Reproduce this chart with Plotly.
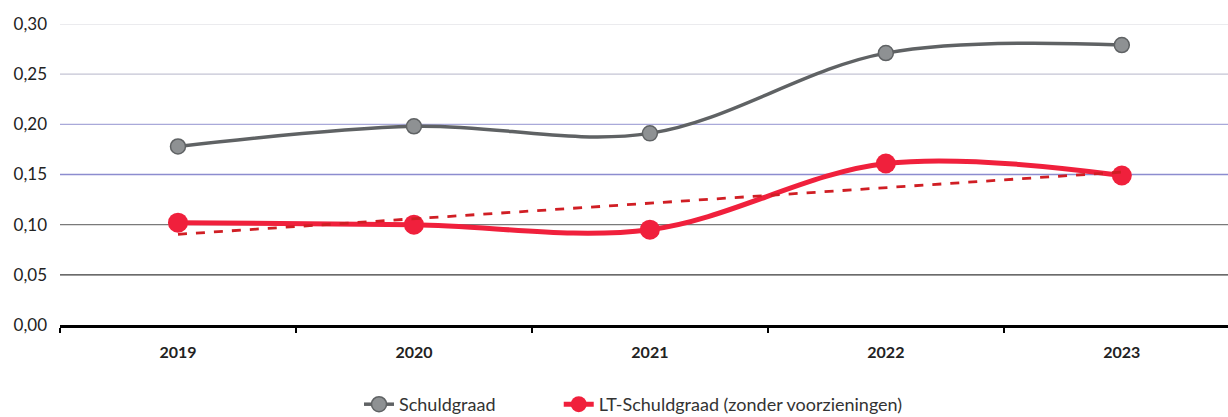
import numpy as np
import plotly.graph_objects as go

# Categories and series values
years = ["2019", "2020", "2021", "2022", "2023"]
schuldgraad = [0.178, 0.198, 0.191, 0.271, 0.279]
lt_schuldgraad = [0.102, 0.100, 0.095, 0.161, 0.149]
y_ticks = [0.00, 0.05, 0.10, 0.15, 0.20, 0.25, 0.30]
grid_colors = ["#000000", "#3a3a3a", "#7a7a7a", "#8c8ccf", "#a9a9d9", "#c4c4d4", "#e4e4e8"]

x = np.arange(len(years))

# Linear trend of the LT series
slope, intercept = np.polyfit(x, lt_schuldgraad, 1)
trend = slope * x + intercept

fig = go.Figure()

fig.add_trace(go.Scatter(
    x=x, y=schuldgraad, name="Schuldgraad", legend="legend",
    mode="lines+markers",
    line=dict(color="#5f6264", width=3.5, shape="spline", smoothing=1.0),
    marker=dict(size=15, color="#8e9193", line=dict(color="#5f6264", width=1.5)),
))

fig.add_trace(go.Scatter(
    x=x, y=lt_schuldgraad, name="LT-Schuldgraad (zonder voorzieningen)", legend="legend2",
    mode="lines+markers",
    line=dict(color="#f0203c", width=5, shape="spline", smoothing=1.0),
    marker=dict(size=20, color="#f0203c"),
))

fig.add_trace(go.Scatter(
    x=[x[0], x[-1]], y=[trend[0], trend[-1]],
    mode="lines", showlegend=False, hoverinfo="skip",
    line=dict(color="#d01e24", width=2.8, dash="dash"),
))

# Horizontal gridlines, each with its own tint
for val, col in zip(y_ticks[1:], grid_colors[1:]):
    fig.add_shape(type="line", xref="paper", yref="y", x0=0, x1=1, y0=val, y1=val,
                  line=dict(color=col, width=1.3), layer="below")

legend_style = dict(orientation="h", xanchor="left", yref="container", y=0.03,
                    yanchor="middle", font=dict(size=18, color="#333333"))

fig.update_layout(
    width=1228, height=417,
    margin=dict(l=60, r=0, t=24, b=92),
    paper_bgcolor="white", plot_bgcolor="white",
    separators=",.",
    font=dict(family="Lato, 'Open Sans', sans-serif", size=17, color="#222222"),
    showlegend=True,
    legend=dict(x=0.256, **legend_style),
    legend2=dict(x=0.427, **legend_style),
    xaxis=dict(
        range=[-0.5, 4.45],
        tickvals=list(x), ticktext=[f"<b>{y}</b>" for y in years],
        ticks="", showgrid=False, zeroline=False,
        showline=True, linecolor="#000000", linewidth=3,
        tickfont=dict(size=16, color="#222222"),
        minor=dict(tick0=-0.5, dtick=1, ticks="outside", ticklen=5, tickwidth=2,
                   tickcolor="#000000", showgrid=False),
        ticklabelstandoff=11,
    ),
    yaxis=dict(
        range=[0, 0.30], tickvals=y_ticks, tickformat=".2f",
        showgrid=False, zeroline=False, showline=False,
        ticks="", tickfont=dict(size=17, color="#222222"),
        ticklabelstandoff=12,
    ),
)

fig.write_html("out.html")
